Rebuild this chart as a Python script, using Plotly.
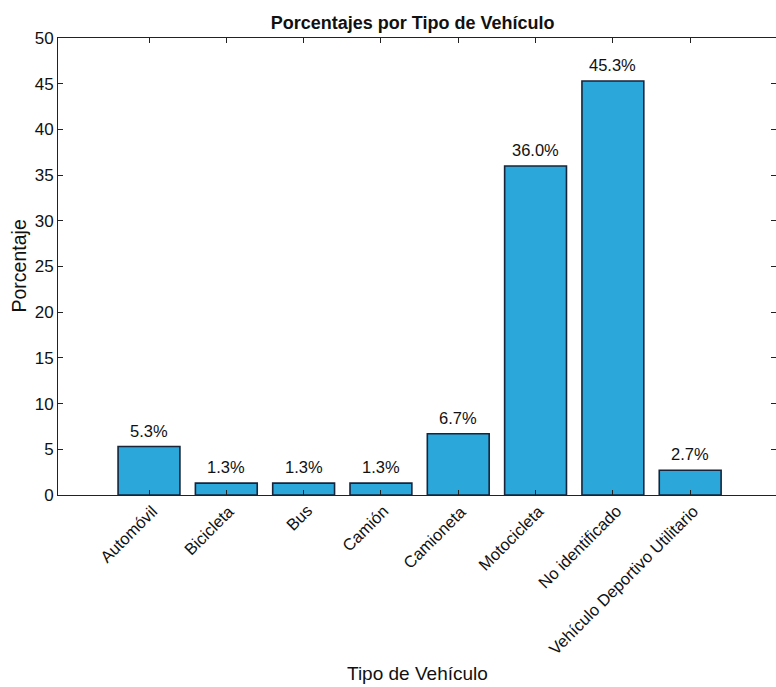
import plotly.graph_objects as go

categorias = ["Automóvil", "Bicicleta", "Bus", "Camión", "Camioneta",
              "Motocicleta", "No identificado", "Vehículo Deportivo Utilitario"]
porcentajes = [5.3, 1.3, 1.3, 1.3, 6.7, 36.0, 45.3, 2.7]
ticks_y = [0, 5, 10, 15, 20, 25, 30, 35, 40, 45, 50]

FONT = "Liberation Sans, Arial, Helvetica, sans-serif"
INK = "#111111"
posiciones = list(range(len(categorias)))

fig = go.Figure(go.Bar(
    x=posiciones,
    y=porcentajes,
    width=0.8,
    marker=dict(color="#2ba7da", line=dict(color="#17243a", width=1.6)),
    cliponaxis=False,
))

anotaciones = []
# value labels above each bar
for xi, v in zip(posiciones, porcentajes):
    anotaciones.append(dict(
        x=xi, y=v, xref="x", yref="y", text=f"{v:.1f}%",
        showarrow=False, xanchor="center", yanchor="bottom", yshift=5,
        font=dict(size=16.5, family=FONT, color=INK),
    ))
# rotated category labels under the axis
for xi, cat in zip(posiciones, categorias):
    anotaciones.append(dict(
        x=xi, y=0, xref="x", yref="y", text=cat,
        showarrow=False, textangle=-45, xanchor="right", yanchor="top",
        xshift=14, yshift=-4,
        font=dict(size=16.5, family=FONT, color=INK),
    ))
# axis titles
anotaciones.append(dict(
    x=0.5, y=0, xref="paper", yref="paper", text="Tipo de Vehículo",
    showarrow=False, xanchor="center", yanchor="bottom", yshift=-191,
    font=dict(size=19, family=FONT, color=INK),
))
anotaciones.append(dict(
    x=0, y=0.5, xref="paper", yref="paper", text="Porcentaje",
    showarrow=False, textangle=-90, xanchor="center", yanchor="middle", xshift=-40,
    font=dict(size=19.5, family=FONT, color=INK),
))

fig.update_layout(
    width=776, height=687,
    margin=dict(l=58, r=0, t=38, b=192),
    paper_bgcolor="white", plot_bgcolor="white",
    font=dict(family=FONT, color=INK),
    showlegend=False,
    title=dict(text="<b>Porcentajes por Tipo de Vehículo</b>",
               xref="paper", x=0.494, xanchor="center",
               yref="container", y=0.967, yanchor="middle",
               font=dict(size=18, family=FONT, color=INK)),
    xaxis=dict(
        tickmode="array", tickvals=posiciones, showticklabels=False,
        range=[-1.177, 8.11],
        showline=True, linecolor="#222222", linewidth=1, mirror="ticks",
        ticks="inside", ticklen=5, tickcolor="#222222",
        showgrid=False, zeroline=False,
    ),
    yaxis=dict(
        range=[0, 50], tickvals=ticks_y, tickfont=dict(size=17),
        showline=True, linecolor="#222222", linewidth=1, mirror="ticks",
        ticks="inside", ticklen=5, tickcolor="#222222",
        showgrid=False, zeroline=False,
    ),
    annotations=anotaciones,
)

fig.write_html("out.html")
